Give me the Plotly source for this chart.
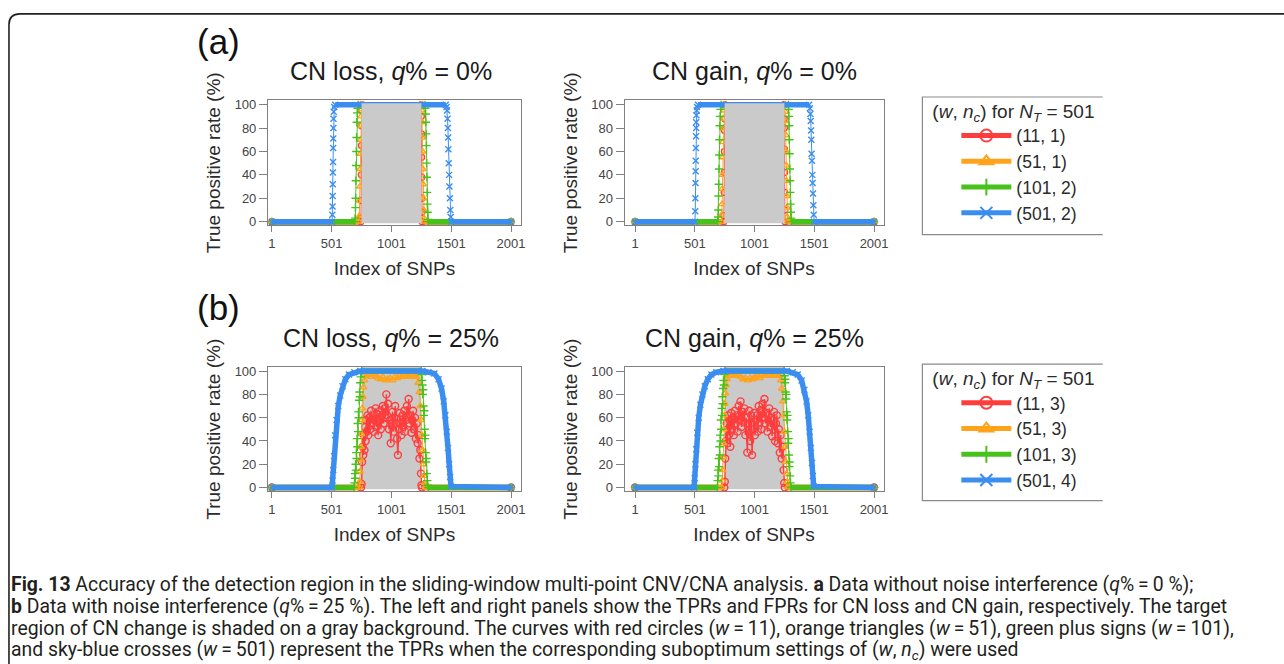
import plotly.graph_objects as go

W, H = 1284, 664

# ---------------- data ----------------
X_TICKS = [1, 501, 1001, 1501, 2001]
Y_TICKS = [0, 20, 40, 60, 80, 100]
TARGET_REGION = [751, 1251]

NAMES_A = ["(11, 1)", "(51, 1)", "(101, 2)", "(501, 2)"]
NAMES_B = ["(11, 3)", "(51, 3)", "(101, 3)", "(501, 4)"]

# (a) CN loss, q% = 0%
A_LOSS_RED_X = [1, 744, 746, 748, 749, 750, 751, 752, 754, 1249, 1251, 1252, 1253, 1254, 1255, 1256, 1258, 2001]
A_LOSS_RED_Y = [0, 0, 3, 18, 40, 65, 82, 95, 100, 100, 90, 75, 55, 38, 20, 8, 0, 0]
A_LOSS_ORA_X = [1, 730, 732, 735, 737, 739, 741, 743, 745, 747, 749, 752, 1252, 1255, 1257, 1259, 1261, 1263, 1265, 1267, 1270, 1273, 1276, 2001]
A_LOSS_ORA_Y = [0, 0, 5, 18, 30, 45, 58, 70, 82, 90, 96, 100, 100, 95, 85, 72, 60, 45, 32, 20, 10, 3, 0, 0]
A_LOSS_GRN_X = [1, 696, 698, 700, 702, 703, 705, 707, 709, 711, 714, 718, 722, 1282, 1284, 1287, 1289, 1291, 1293, 1295, 1297, 1299, 1301, 1303, 1306, 1308, 2001]
A_LOSS_GRN_Y = [0, 0, 3, 12, 20, 35, 48, 60, 72, 85, 93, 97, 100, 100, 97, 92, 85, 75, 65, 50, 38, 25, 15, 8, 2, 0, 0]
A_LOSS_BLU_X = [1, 504, 506, 508, 509, 510, 511, 512, 513, 514, 515, 516, 518, 522, 530, 1455, 1462, 1466, 1470, 1473, 1475, 1477, 1480, 1483, 1486, 1490, 1493, 1497, 1500, 2001]
A_LOSS_BLU_Y = [0, 0, 6, 13, 22, 32, 42, 51, 63, 71, 80, 88, 94, 98, 100, 100, 98, 95, 88, 80, 72, 62, 50, 40, 30, 20, 10, 4, 0, 0]

# (a) CN gain, q% = 0%
A_GAIN_RED_X = [1, 743, 745, 747, 748, 749, 750, 751, 753, 1247, 1249, 1250, 1251, 1252, 1253, 1254, 1256, 2001]
A_GAIN_RED_Y = [0, 0, 5, 25, 42, 60, 78, 88, 100, 100, 88, 80, 62, 42, 25, 10, 0, 0]
A_GAIN_ORA_X = [1, 724, 727, 729, 731, 733, 735, 737, 739, 742, 745, 749, 1255, 1258, 1260, 1262, 1264, 1266, 1268, 1270, 1272, 1275, 1278, 2001]
A_GAIN_ORA_Y = [0, 0, 6, 15, 28, 40, 55, 68, 80, 88, 95, 100, 100, 94, 86, 74, 60, 48, 35, 22, 12, 4, 0, 0]
A_GAIN_GRN_X = [1, 694, 696, 698, 700, 702, 704, 706, 708, 710, 713, 717, 721, 1284, 1286, 1288, 1290, 1292, 1294, 1296, 1298, 1300, 1302, 1304, 1307, 1310, 2001]
A_GAIN_GRN_Y = [0, 0, 4, 10, 22, 32, 45, 57, 70, 82, 90, 96, 100, 100, 96, 90, 82, 70, 58, 45, 35, 25, 15, 8, 3, 0, 0]
A_GAIN_BLU_X = [1, 503, 505, 506, 507, 508, 509, 510, 511, 512, 513, 515, 517, 520, 528, 1458, 1464, 1468, 1471, 1474, 1476, 1478, 1481, 1484, 1487, 1490, 1493, 1496, 1499, 2001]
A_GAIN_BLU_Y = [0, 0, 9, 20, 33, 43, 52, 63, 73, 80, 85, 91, 95, 98, 100, 100, 97, 92, 86, 78, 70, 58, 52, 40, 33, 24, 14, 6, 0, 0]

# (b) CN loss, q% = 25%
B_LOSS_RED_X = [1, 746, 751, 755, 760, 765, 770, 775, 780, 785,
                790, 795, 800, 808, 815, 822, 830, 838, 845, 852,
                860, 868, 875, 882, 890, 898, 905, 912, 920, 928,
                935, 942, 950, 958, 965, 972, 980, 988, 995, 1002,
                1010, 1018, 1025, 1032, 1040, 1048, 1055, 1062, 1070, 1078,
                1085, 1092, 1100, 1108, 1115, 1122, 1130, 1138, 1145, 1152,
                1160, 1168, 1175, 1182, 1190, 1198, 1205, 1212, 1220, 1228,
                1235, 1242, 1248, 1252, 1256, 2001]
B_LOSS_RED_Y = [0, 0, 3, 22, 35, 28, 45, 32, 52, 40,
                58, 48, 62, 45, 60, 50, 66, 55, 62, 48,
                58, 68, 52, 63, 45, 57, 66, 50, 62, 70,
                55, 68, 60, 80, 62, 72, 50, 58, 38, 55,
                65, 48, 60, 70, 55, 42, 28, 50, 64, 55,
                45, 62, 52, 66, 48, 58, 70, 62, 76, 55,
                62, 47, 58, 66, 50, 60, 42, 55, 38, 45,
                25, 32, 12, 2, 0, 0]
B_LOSS_ORA_X = [1, 733, 736, 739, 742, 745, 748, 752, 756, 761, 767, 775,
                790, 810, 830, 850, 870, 890, 910, 930, 950, 970, 990, 1010, 1030, 1050, 1070, 1090, 1110, 1130, 1150, 1170, 1190, 1210,
                1225, 1235, 1243, 1250, 1256, 1262, 1268, 1274, 1280, 1286, 1290, 2001]
B_LOSS_ORA_Y = [0, 0, 5, 14, 24, 35, 46, 58, 68, 78, 86, 92,
                96, 97, 95, 97, 96, 94, 93, 95, 92, 93, 94, 92, 95, 94, 96, 95, 97, 96, 95, 97, 96, 95,
                90, 82, 70, 58, 45, 32, 20, 10, 4, 1, 0, 0]
B_LOSS_GRN_X = [1, 688, 692, 695, 698, 701, 704, 707, 710, 713, 716, 719, 722, 725, 728, 731, 734, 737, 740, 744, 748, 752,
                1250, 1254, 1257, 1260, 1263, 1266, 1269, 1272, 1275, 1278, 1281, 1284, 1287, 1290, 1293, 1296, 1300, 1304, 1308, 2001]
B_LOSS_GRN_Y = [0, 0, 4, 12, 8, 20, 15, 30, 25, 42, 35, 55, 48, 65, 60, 75, 82, 78, 90, 95, 98, 100,
                100, 97, 92, 88, 80, 84, 70, 62, 66, 50, 42, 45, 30, 22, 25, 12, 6, 2, 0, 0]
B_LOSS_BLU_X = [1, 503, 508, 514, 520, 530, 542, 556, 572, 592, 615, 645, 690, 740,
                1260, 1310, 1360, 1395, 1420, 1438, 1452, 1464, 1474, 1484, 1492, 1499, 2001]
B_LOSS_BLU_Y = [0, 0, 6, 15, 27, 45, 58, 70, 79, 87, 93, 97, 99, 100,
                100, 99, 98, 93, 85, 74, 62, 48, 34, 20, 9, 1, 0]

# (b) CN gain, q% = 25%
B_GAIN_RED_X = [1, 748, 752, 756, 762, 768, 774, 780, 786, 792, 798, 805,
                812, 820, 828, 836, 844, 852, 860, 868, 876, 884,
                892, 900, 908, 916, 924, 932, 940, 948, 956, 964,
                972, 980, 988, 996, 1004, 1012, 1020, 1028, 1036, 1044,
                1052, 1060, 1068, 1076, 1084, 1092, 1100, 1108, 1116, 1124,
                1132, 1140, 1148, 1156, 1164, 1172, 1180, 1188, 1196, 1204,
                1212, 1220, 1228, 1236, 1244, 1250, 1254, 2001]
B_GAIN_RED_Y = [0, 0, 5, 25, 40, 55, 38, 62, 45, 58, 35, 64,
                50, 60, 45, 66, 55, 62, 48, 70, 58, 74,
                52, 65, 56, 68, 45, 60, 30, 55, 66, 40,
                62, 28, 50, 64, 45, 58, 62, 48, 70, 56,
                66, 50, 72, 60, 76, 55, 64, 48, 62, 68,
                52, 60, 44, 58, 65, 40, 55, 62, 38, 50,
                30, 45, 25, 35, 15, 4, 0, 0]
B_GAIN_ORA_X = [1, 728, 731, 734, 737, 740, 743, 747, 751, 756, 762, 770,
                785, 805, 825, 845, 865, 885, 905, 925, 945, 965, 985, 1005, 1025, 1045, 1065, 1085, 1105, 1125, 1145, 1165, 1185, 1205,
                1220, 1230, 1238, 1245, 1251, 1257, 1263, 1269, 1275, 1281, 1286, 2001]
B_GAIN_ORA_Y = [0, 0, 6, 15, 26, 38, 50, 62, 72, 81, 88, 93,
                96, 98, 97, 96, 97, 95, 93, 94, 92, 94, 93, 95, 96, 94, 97, 96, 98, 97, 96, 98, 97, 96,
                92, 85, 74, 62, 48, 35, 22, 12, 5, 1, 0, 0]
B_GAIN_GRN_X = [1, 690, 693, 696, 699, 702, 705, 708, 711, 714, 717, 720, 723, 726, 729, 732, 735, 738, 741, 745, 749, 753,
                1248, 1252, 1255, 1258, 1261, 1264, 1267, 1270, 1273, 1276, 1279, 1282, 1285, 1288, 1291, 1294, 1298, 1302, 1306, 2001]
B_GAIN_GRN_Y = [0, 0, 6, 15, 10, 25, 18, 35, 28, 45, 40, 58, 50, 68, 62, 78, 72, 85, 92, 88, 97, 100,
                100, 96, 90, 93, 82, 76, 80, 65, 58, 62, 48, 38, 42, 28, 18, 22, 10, 4, 0, 0]
B_GAIN_BLU_X = [1, 495, 500, 506, 513, 522, 534, 548, 565, 585, 610, 640, 680, 740,
                1270, 1320, 1362, 1395, 1418, 1436, 1450, 1462, 1472, 1481, 1489, 1496, 2001]
B_GAIN_BLU_Y = [0, 0, 8, 20, 33, 47, 60, 71, 80, 87, 93, 97, 99, 100,
                100, 99, 97, 92, 84, 74, 62, 48, 34, 21, 10, 1, 0]

# ---------------- style ----------------
COLORS = ["#ff3d3d", "#ffa31a", "#47c21a", "#3b8ef0"]
SYMBOLS = ["circle-open", "triangle-up-open", "cross-thin-open", "x-thin-open"]
SHADE = "#cacaca"
FONT = "Liberation Sans, Arial, sans-serif"
CAP_FONT = "Roboto, Open Sans, sans-serif"
TXT = "#2b2b2b"


def pxx(p):
    return p / W


def pxy(p):
    return 1 - p / H


def flat_runs(ys):
    out = []
    n = len(ys)
    for i, v in enumerate(ys):
        flat = (i > 0 and ys[i - 1] == v) or (i < n - 1 and ys[i + 1] == v)
        out.append(v if flat else None)
    return out


panels = [
    dict(xa="x", ya="y", dense_blue=False, shade_above=True,
         series=[(A_LOSS_RED_X, A_LOSS_RED_Y), (A_LOSS_ORA_X, A_LOSS_ORA_Y),
                 (A_LOSS_GRN_X, A_LOSS_GRN_Y), (A_LOSS_BLU_X, A_LOSS_BLU_Y)]),
    dict(xa="x2", ya="y2", dense_blue=False, shade_above=True,
         series=[(A_GAIN_RED_X, A_GAIN_RED_Y), (A_GAIN_ORA_X, A_GAIN_ORA_Y),
                 (A_GAIN_GRN_X, A_GAIN_GRN_Y), (A_GAIN_BLU_X, A_GAIN_BLU_Y)]),
    dict(xa="x3", ya="y3", dense_blue=True, shade_above=False,
         series=[(B_LOSS_RED_X, B_LOSS_RED_Y), (B_LOSS_ORA_X, B_LOSS_ORA_Y),
                 (B_LOSS_GRN_X, B_LOSS_GRN_Y), (B_LOSS_BLU_X, B_LOSS_BLU_Y)]),
    dict(xa="x4", ya="y4", dense_blue=True, shade_above=False,
         series=[(B_GAIN_RED_X, B_GAIN_RED_Y), (B_GAIN_ORA_X, B_GAIN_ORA_Y),
                 (B_GAIN_GRN_X, B_GAIN_GRN_Y), (B_GAIN_BLU_X, B_GAIN_BLU_Y)]),
]

fig = go.Figure()

for p in panels:
    for k, (xs, ys) in enumerate(p["series"]):
        dense = p["dense_blue"] and k == 3
        band = list(ys) if dense else flat_runs(ys)
        fig.add_trace(go.Scatter(
            x=xs, y=band, mode="lines", connectgaps=False,
            line=dict(color=COLORS[k], width=5.5),
            xaxis=p["xa"], yaxis=p["ya"], showlegend=False, hoverinfo="skip"))
        noisy_red = (k == 0 and p["dense_blue"])
        fig.add_trace(go.Scatter(
            x=xs, y=ys, mode="lines+markers",
            line=dict(color=COLORS[k], width=1.4 if noisy_red else 1),
            marker=dict(symbol=SYMBOLS[k], size=7 if noisy_red else 6, color=COLORS[k],
                        line=dict(width=1.4, color=COLORS[k])),
            xaxis=p["xa"], yaxis=p["ya"], showlegend=False, hoverinfo="skip"))

# legend entries
for names, leg, xa, ya in [(NAMES_A, "legend", "x", "y"), (NAMES_B, "legend2", "x3", "y3")]:
    for k, nm in enumerate(names):
        fig.add_trace(go.Scatter(
            x=[None], y=[None], mode="lines+markers", name=nm, legend=leg,
            line=dict(color=COLORS[k], width=2),
            marker=dict(symbol=SYMBOLS[k], size=9, color=COLORS[k],
                        line=dict(width=1.8, color=COLORS[k])),
            xaxis=xa, yaxis=ya))

# ---------------- axes ----------------
row_a = [1 - 224.5 / H, 1 - 98.5 / H]
row_b = [1 - 493.5 / H, 1 - 368 / H]
col_l = [269 / W, 523 / W]
col_r = [627 / W, 887 / W]
x_range_l = [-32.3, 2084.3]
x_range_r = [-86.5, 2080.2]
y_range_a = [-2.96, 103.6]
y_range_b = [-3.2, 103.4]

common = dict(showline=True, mirror=True, linecolor="#808080", linewidth=1,
              ticks="outside", tickwidth=1, tickcolor="#808080",
              showgrid=False, zeroline=False,
              tickfont=dict(family=FONT, size=13, color="#444444"))


def xax(domain, anchor, rng):
    return dict(common, domain=domain, anchor=anchor, range=rng, tickvals=X_TICKS, ticklen=6,
                title=dict(text="Index of SNPs", font=dict(family=FONT, size=19, color=TXT), standoff=11))


def yax(domain, anchor, rng):
    return dict(common, domain=domain, anchor=anchor, range=rng, tickvals=Y_TICKS, ticklen=8,
                title=dict(text="True positive rate (%)", font=dict(family=FONT, size=19, color=TXT), standoff=8))


legend_common = dict(xanchor="left", yanchor="top", borderwidth=0,
                     bgcolor="rgba(0,0,0,0)", font=dict(family=FONT, size=17.5, color=TXT),
                     tracegroupgap=0, indentation=26, itemwidth=50, itemsizing="constant")
leg_title = "(<i>w</i>, <i>n</i><sub><i>c</i></sub>) for <i>N</i><sub><i>T</i></sub> = 501"

fig.update_layout(
    width=W, height=H, margin=dict(l=0, r=0, t=0, b=0),
    paper_bgcolor="white", plot_bgcolor="white",
    xaxis=xax(col_l, "y", x_range_l), yaxis=yax(row_a, "x", y_range_a),
    xaxis2=xax(col_r, "y2", x_range_r), yaxis2=yax(row_a, "x2", y_range_a),
    xaxis3=xax(col_l, "y3", x_range_l), yaxis3=yax(row_b, "x3", y_range_b),
    xaxis4=xax(col_r, "y4", x_range_r), yaxis4=yax(row_b, "x4", y_range_b),
    legend=dict(legend_common, x=pxx(934), y=pxy(91),
                title=dict(text=leg_title, font=dict(family=FONT, size=19, color=TXT))),
    legend2=dict(legend_common, x=pxx(934), y=pxy(361),
                 title=dict(text=leg_title, font=dict(family=FONT, size=19, color=TXT))),
    showlegend=True,
)

# ---------------- shapes ----------------
shapes = []
for p in panels:
    if p["shade_above"]:
        shapes.append(dict(type="rect", xref=p["xa"], yref=p["ya"], x0=TARGET_REGION[0], x1=TARGET_REGION[1],
                           y0=-1.3, y1=101.3, fillcolor=SHADE, line=dict(width=0), layer="above"))
    else:
        shapes.append(dict(type="rect", xref=p["xa"], yref=p["ya"], x0=TARGET_REGION[0], x1=TARGET_REGION[1],
                           y0=-1.4, y1=103.4, fillcolor=SHADE, line=dict(width=0), layer="below"))

# legend frames (open on the right, as in the cropped original)
for top, bot in [(95, 234), (365, 503)]:
    shapes.append(dict(type="path", xref="paper", yref="paper",
                       path=(f"M {pxx(1107)},{pxy(top)} L {pxx(926)},{pxy(top)} "
                             f"L {pxx(926)},{pxy(bot)} L {pxx(1107)},{pxy(bot)}"),
                       line=dict(color="#8a8a8a", width=1.2)))

# outer rounded frame of the figure page
x0, yt, r = 9, 11, 11
path = (f"M {pxx(1300)},{pxy(yt)} L {pxx(x0 + r)},{pxy(yt)} "
        f"Q {pxx(x0)},{pxy(yt)} {pxx(x0)},{pxy(yt + r)} L {pxx(x0)},{pxy(680)}")
shapes.append(dict(type="path", xref="paper", yref="paper", path=path,
                   line=dict(color="#222222", width=1.6)))
fig.update_layout(shapes=shapes)

# ---------------- annotations ----------------
ann = []
ann.append(dict(text="(a)", x=pxx(196), y=pxy(39), xanchor="left", yanchor="middle",
                font=dict(family=FONT, size=35, color="#111111")))
ann.append(dict(text="(b)", x=pxx(196), y=pxy(308), xanchor="left", yanchor="middle",
                font=dict(family=FONT, size=35, color="#111111")))
titles = [("CN loss, <i>q</i>% = 0%", 393, 69), ("CN gain, <i>q</i>% = 0%", 757, 69),
          ("CN loss, <i>q</i>% = 25%", 393, 339), ("CN gain, <i>q</i>% = 25%", 757, 339)]
for t, cx, cy in titles:
    ann.append(dict(text=t, x=pxx(cx), y=pxy(cy), xanchor="center", yanchor="middle",
                    font=dict(family=FONT, size=25, color="#1a1a1a")))

caption = [
    "<b>Fig. 13</b> Accuracy of the detection region in the sliding-window multi-point CNV/CNA analysis. "
    "<b>a</b> Data without noise interference (<i>q</i>%\u2009=\u20090 %);",
    "<b>b</b> Data with noise interference (<i>q</i>%\u2009=\u200925 %). The left and right panels show the TPRs "
    "and FPRs for CN loss and CN gain, respectively. The target",
    "region of CN change is shaded on a gray background. The curves with red circles (<i>w</i>\u2009=\u200911), "
    "orange triangles (<i>w</i>\u2009=\u200951), green plus signs (<i>w</i>\u2009=\u2009101),",
    "and sky-blue crosses (<i>w</i>\u2009=\u2009501) represent the TPRs when the corresponding suboptimum "
    "settings of (<i>w</i>, <i>n<sub>c</sub></i>) were used",
]
for i, line in enumerate(caption):
    ann.append(dict(text=line, x=pxx(10), y=pxy(587.5 + 22.3 * i), xanchor="left", yanchor="middle",
                    borderpad=0, font=dict(family=CAP_FONT, size=19.4, color="#231f20")))

for a in ann:
    a.update(xref="paper", yref="paper", showarrow=False)
fig.update_layout(annotations=ann)

fig.write_html("out.html", config={"displayModeBar": False},
               post_script="document.body.style.margin='0';")
